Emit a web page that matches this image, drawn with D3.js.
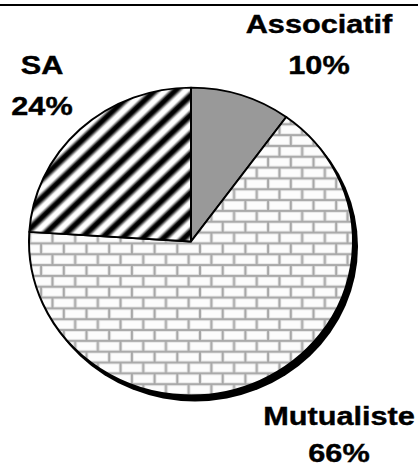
<!DOCTYPE html>
<html>
<head>
<meta charset="utf-8">
<script src="https://cdn.jsdelivr.net/npm/d3@7"></script>
<style>
  html, body { margin: 0; padding: 0; background: #fff; }
  svg { display: block; }
</style>
</head>
<body>
<script>
const categories = ["Associatif", "Mutualiste", "SA"];
const values = [10, 66, 24];
const pctLabels = ["10%", "66%", "24%"];

const W = 418, H = 469;
const cx = 191, cy = 241.5, R = 162, yScale = 0.95;

const svg = d3.select("body").append("svg").attr("width", W).attr("height", H);
const defs = svg.append("defs");

// Hatch pattern (diagonal "/" stripes with soft edges)
const grad = defs.append("linearGradient").attr("id", "stripeGrad")
  .attr("x1", 0).attr("x2", 1).attr("y1", 0).attr("y2", 0);
[[0, "#fff"], [0.14, "#fff"], [0.38, "#000"], [0.6, "#000"], [0.86, "#fff"], [1, "#fff"]]
  .forEach(([o, c]) => grad.append("stop").attr("offset", o).attr("stop-color", c));
const hp = 14.5;
const hatch = defs.append("pattern").attr("id", "hatch")
  .attr("patternUnits", "userSpaceOnUse").attr("width", hp).attr("height", hp)
  .attr("patternTransform", "rotate(45)");
hatch.append("rect").attr("width", hp).attr("height", hp).attr("fill", "url(#stripeGrad)");

// Brick pattern
const bw = 22.7, bh = 11.4;
const brick = defs.append("pattern").attr("id", "brick")
  .attr("patternUnits", "userSpaceOnUse").attr("width", bw).attr("height", bh * 2)
  .attr("x", 9).attr("y", 2);
brick.append("rect").attr("width", bw).attr("height", bh * 2).attr("fill", "#a8a8a8");
const bricks = [
  [0, 0], [-bw / 2, bh], [bw / 2, bh]
];
bricks.forEach(([x, y]) => {
  brick.append("rect").attr("x", x + 1).attr("y", y + 1).attr("width", bw - 2).attr("height", bh - 2)
    .attr("fill", "#e2e2e2");
  brick.append("rect").attr("x", x + 1.8).attr("y", y + 1.8).attr("width", bw - 3.6).attr("height", bh - 3.6)
    .attr("fill", "#fcfcfc");
});

const fills = { "Associatif": "#999999", "Mutualiste": "url(#brick)", "SA": "url(#hatch)" };

// Top rule
svg.append("line").attr("x1", 0).attr("x2", W).attr("y1", 5).attr("y2", 5)
  .attr("stroke", "#000").attr("stroke-width", 2);

const pie = d3.pie().sort(null).value(d => d.v);
const data = pie(categories.map((c, i) => ({ c, v: values[i] })));
const arc = d3.arc().innerRadius(0).outerRadius(R);

// shadow
svg.append("ellipse").attr("cx", cx + 4).attr("cy", cy + 5)
  .attr("rx", R + 1).attr("ry", R * yScale + 1).attr("fill", "#000");

const g = svg.append("g").attr("transform", `translate(${cx},${cy}) scale(1,${yScale})`);
g.selectAll("path").data(data).join("path")
  .attr("d", arc)
  .attr("fill", d => fills[d.data.c])
  .attr("stroke", "#000").attr("stroke-width", 2).attr("stroke-linejoin", "round");

// Labels
const labelPos = {
  "Associatif": [319, 33, 74],
  "Mutualiste": [339, 425, 462],
  "SA": [42, 74, 115]
};
categories.forEach((c, i) => {
  const [x, y1, y2] = labelPos[c];
  [[c, y1], [pctLabels[i], y2]].forEach(([t, y]) => {
    svg.append("text")
      .attr("transform", `translate(${x},${y}) scale(1.18,1)`)
      .attr("text-anchor", "middle")
      .attr("font-family", "'Liberation Sans', Arial, sans-serif")
      .attr("font-weight", "bold").attr("font-size", 26)
      .attr("fill", "#000").attr("stroke", "#000").attr("stroke-width", 0.4)
      .text(t);
  });
});
</script>
</body>
</html>
